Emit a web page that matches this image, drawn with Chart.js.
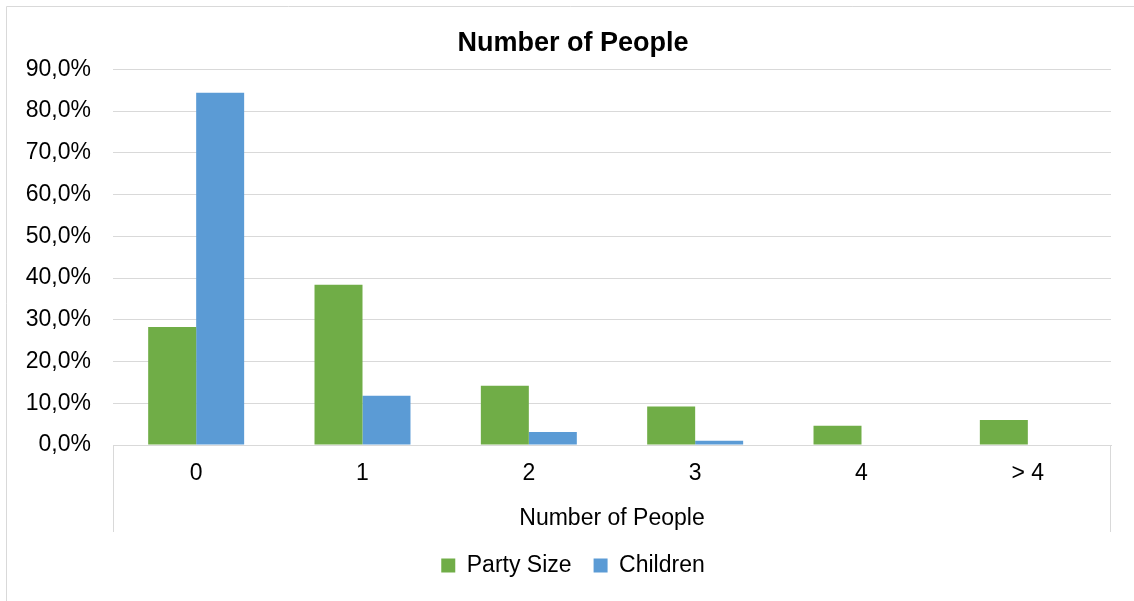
<!DOCTYPE html>
<html>
<head>
<meta charset="utf-8">
<script src="https://cdn.jsdelivr.net/npm/chart.js@4.4.1/dist/chart.umd.min.js"></script>
<style>
  html, body { margin:0; padding:0; background:#fff; }
  #wrap { width:1134px; height:601px; }
</style>
</head>
<body>
<div id="wrap"><canvas id="chart" width="1134" height="601"></canvas></div>
<script>
// data (percent of respondents)
const categories = ['0', '1', '2', '3', '4', '> 4'];
const partySize  = [28.3, 38.4, 14.2, 9.2, 4.6, 6.0];
const children   = [84.4, 11.8, 3.1, 1.0, 0, 0];
const yTicks     = [0, 10, 20, 30, 40, 50, 60, 70, 80, 90];

const GRID = '#D9D9D9';
Chart.defaults.font.family = "'Liberation Sans', Arial, sans-serif";
Chart.defaults.color = '#000';

// outer frame + the two long tick lines under the plot
const frame = {
  id: 'frame',
  afterDraw(chart) {
    const { ctx, chartArea: a, scales } = chart;
    ctx.save();
    ctx.strokeStyle = GRID;
    ctx.lineWidth = 1;
    ctx.beginPath();
    ctx.moveTo(6.5, 601); ctx.lineTo(6.5, 6.5); ctx.lineTo(1134, 6.5);
    const l = Math.round(a.left) + 0.5, r = Math.round(a.right) - 0.5;
    ctx.moveTo(l, a.bottom); ctx.lineTo(l, scales.x.bottom);
    ctx.moveTo(r, a.bottom); ctx.lineTo(r, scales.x.bottom);
    ctx.stroke();
    ctx.restore();
  }
};

new Chart(document.getElementById('chart').getContext('2d'), {
  type: 'bar',
  data: {
    labels: categories,
    datasets: [
      { label:'Party Size', data: partySize, backgroundColor:'#70AD47' },
      { label:'Children',   data: children,  backgroundColor:'#5B9BD5' },
    ],
  },
  options: {
    responsive: false,
    animation: false,
    layout: { padding: { left: 12, right: 0, top: 0, bottom: 14 } },
    datasets: { bar: { categoryPercentage: 0.577, barPercentage: 1 } },
    plugins: {
      tooltip: { enabled: false },
      title: {
        display: true, text: 'Number of People', color: '#000',
        font: { size: 27, weight: 'bold' },
        padding: { top: 27, bottom: 10 },
      },
      legend: {
        position: 'bottom',
        labels: { font: { size: 23 }, color: '#000', boxWidth: 14, boxHeight: 14, padding: 22 },
      },
    },
    scales: {
      x: {
        grid: { display: false, drawTicks: false },
        border: { display: true, color: GRID, width: 1 },
        ticks: { padding: 15, font: { size: 23 }, color: '#000' },
        title: { display: true, text: 'Number of People', font: { size: 23 }, color: '#000', padding: 0 },
        afterFit: s => { s.height = 87; },
      },
      y: {
        min: 0, max: 90,
        afterBuildTicks: s => { s.ticks = yTicks.map(v => ({ value: v })); },
        grid: { color: GRID, lineWidth: 1, drawTicks: false },
        border: { display: false },
        ticks: {
          padding: 22, font: { size: 23 }, color: '#000',
          callback: v => v.toFixed(1).replace('.', ',') + '%',
        },
        afterFit: s => { s.width = 101; },
      },
      yr: {
        position: 'right',
        grid: { display: false, drawTicks: false },
        border: { display: false },
        ticks: { display: false },
        afterFit: s => { s.width = 23; },
      },
    },
  },
  plugins: [frame],
});
</script>
</body>
</html>
